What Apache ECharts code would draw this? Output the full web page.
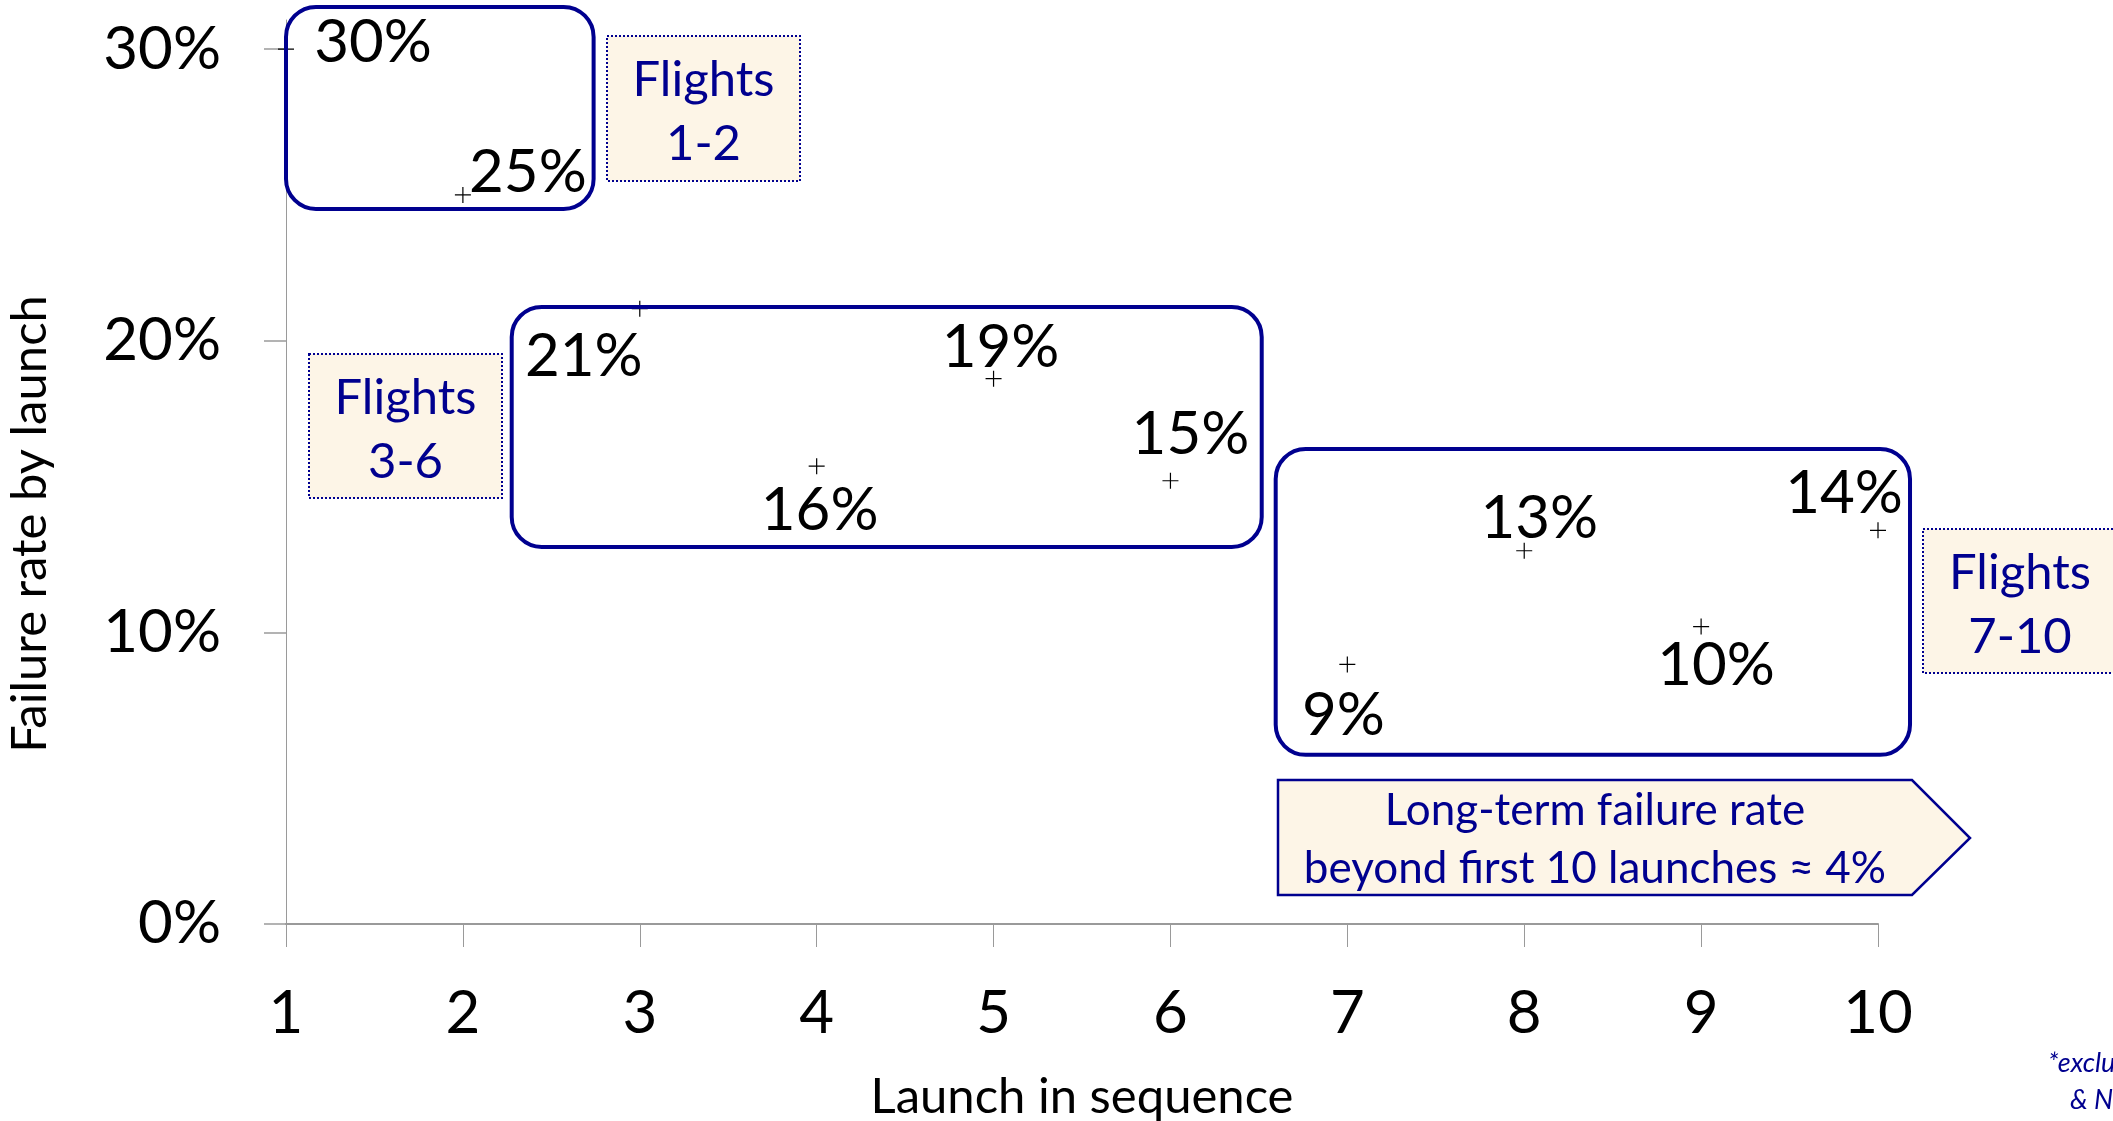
<!DOCTYPE html>
<html>
<head>
<meta charset="utf-8">
<title>Failure rate by launch</title>
<script src="https://cdn.jsdelivr.net/npm/echarts@6/dist/echarts.min.js"></script>
<style>
  html, body { margin: 0; padding: 0; background: #ffffff; }
  #chart { width: 2113px; height: 1121px; }
</style>
</head>
<body>
<div id="chart"></div>
<script>
// Launch number in sequence and failure rate (%) for that launch
const launches = [1, 2, 3, 4, 5, 6, 7, 8, 9, 10];
const failureRates = [30, 25, 21.1, 15.7, 18.7, 15.2, 8.9, 12.8, 10.2, 13.5];
const yTickValues = [0, 10, 20, 30];

// Groups of flights, outlined with rounded boxes (launch range, rate range)
const groupNames = ['Flights\n1-2', 'Flights\n3-6', 'Flights\n7-10'];
const groupBounds = [
  { x: [1.0, 2.739], y: [24.52, 31.45] },
  { x: [2.276, 6.516], y: [12.93, 21.16] },
  { x: [6.595, 10.181], y: [5.80, 16.29] }
];
const longTermNote = 'Long-term failure rate\nbeyond first 10 launches \u2248 4%';
const footnoteLines = ['*excluding', '& NK'];

const NAVY = '#00008F';
const CREAM = '#FDF5E7';
const FONT = 'Lato, "Open Sans", sans-serif';

// label placement around each "+" marker (pixels)
const labelOffsets = [
  [87, -7], [65, -22], [-56, 48], [3, 44], [7, -31],
  [20, -46], [-4, 51], [15, -32], [15, 39], [-34, -37]
];

const chart = echarts.init(document.getElementById('chart'), null, { renderer: 'canvas' });

const points = launches.map((x, i) => ({
  value: [x, failureRates[i]],
  label: { offset: labelOffsets[i] }
}));

chart.setOption({
  backgroundColor: '#ffffff',
  animation: false,
  grid: {
    left: 286, right: 235, top: 20, bottom: 197,
    containLabel: false,
    outerBoundsMode: 'none'
  },
  xAxis: {
    type: 'value',
    min: 1, max: 10, interval: 1,
    name: 'Launch in sequence',
    nameLocation: 'middle',
    nameGap: 149,
    nameTextStyle: { fontFamily: FONT, fontSize: 49, color: '#000' },
    axisLine: { show: true, onZero: false, lineStyle: { color: '#9a9a9a', width: 2 } },
    axisTick: { show: true, length: 23, lineStyle: { color: '#9a9a9a', width: 1 } },
    axisLabel: { margin: 60, fontFamily: FONT, fontSize: 60, color: '#000' },
    splitLine: { show: false }
  },
  yAxis: {
    type: 'value',
    min: 0, max: 31, interval: 10,
    axisLine: { show: true, onZero: false, lineStyle: { color: '#9a9a9a', width: 1 } },
    axisTick: { show: true, length: 22, customValues: yTickValues, lineStyle: { color: '#9a9a9a', width: 1.5 } },
    axisLabel: {
      margin: 65, fontFamily: FONT, fontSize: 60, color: '#000',
      padding: [4, 0, 0, 0],
      customValues: yTickValues,
      formatter: v => v + '%'
    },
    splitLine: { show: false }
  },
  series: [{
    type: 'scatter',
    data: points,
    clip: false,
    symbol: 'path://M0,9.25H20V10.75H0Z M9.25,0H10.75V20H9.25Z',
    symbolSize: 16,
    itemStyle: { color: '#000', opacity: 1 },
    label: {
      show: true,
      position: 'inside',
      align: 'center',
      verticalAlign: 'middle',
      fontFamily: FONT,
      fontSize: 60,
      color: '#000',
      opacity: 1,
      textBorderWidth: 0,
      formatter: p => Math.round(p.value[1]) + '%'
    },
    emphasis: { disabled: true }
  }]
});

const toPx = (x, y) => chart.convertToPixel({ gridIndex: 0 }, [x, y]);

// rounded outlines around each group of flights
const groupBoxes = groupBounds.map(b => {
  const p0 = toPx(b.x[0], b.y[1]);
  const p1 = toPx(b.x[1], b.y[0]);
  return {
    type: 'rect',
    z: 10,
    shape: { x: p0[0], y: p0[1], width: p1[0] - p0[0], height: p1[1] - p0[1], r: 30 },
    style: { fill: null, stroke: NAVY, lineWidth: 4 }
  };
});

// cream name tags beside each group
const tagRects = [
  { x: 607, y: 36, width: 193, height: 145 },
  { x: 309, y: 354, width: 193, height: 144 },
  { x: 1923, y: 529, width: 194, height: 144 }
];
const tags = [];
tagRects.forEach((r, i) => {
  tags.push({
    type: 'rect', z: 9,
    shape: r,
    style: { fill: CREAM, stroke: NAVY, lineWidth: 2, lineDash: [2, 2] }
  });
  tags.push({
    type: 'text', z: 11,
    x: r.x + r.width / 2, y: r.y + r.height / 2 + 4,
    style: {
      text: groupNames[i], fill: NAVY, font: '49px ' + FONT,
      align: 'center', verticalAlign: 'middle', lineHeight: 64
    }
  });
});

// arrow-shaped callout for the long-term rate
const arrow = [
  {
    type: 'polygon', z: 9,
    shape: { points: [[1278, 780], [1912, 780], [1970, 838], [1912, 895], [1278, 895]] },
    style: { fill: CREAM, stroke: NAVY, lineWidth: 2.5 }
  },
  {
    type: 'text', z: 11,
    x: 1595, y: 840,
    style: {
      text: longTermNote, fill: NAVY, font: '44px ' + FONT,
      align: 'center', verticalAlign: 'middle', lineHeight: 58
    }
  }
];

const titles = [
  {
    type: 'text', z: 11,
    x: 30, y: 524, rotation: Math.PI / 2,
    style: {
      text: 'Failure rate by launch', fill: '#000', font: '49px ' + FONT,
      align: 'center', verticalAlign: 'middle'
    }
  },
  {
    type: 'text', z: 11,
    x: 2048, y: 1050,
    style: { text: footnoteLines[0], fill: NAVY, font: 'italic 27px ' + FONT, align: 'left', verticalAlign: 'top' }
  },
  {
    type: 'text', z: 11,
    x: 2070, y: 1087,
    style: { text: footnoteLines[1], fill: NAVY, font: 'italic 27px ' + FONT, align: 'left', verticalAlign: 'top' }
  }
];

chart.setOption({ graphic: groupBoxes.concat(tags, arrow, titles) });
</script>
</body>
</html>
